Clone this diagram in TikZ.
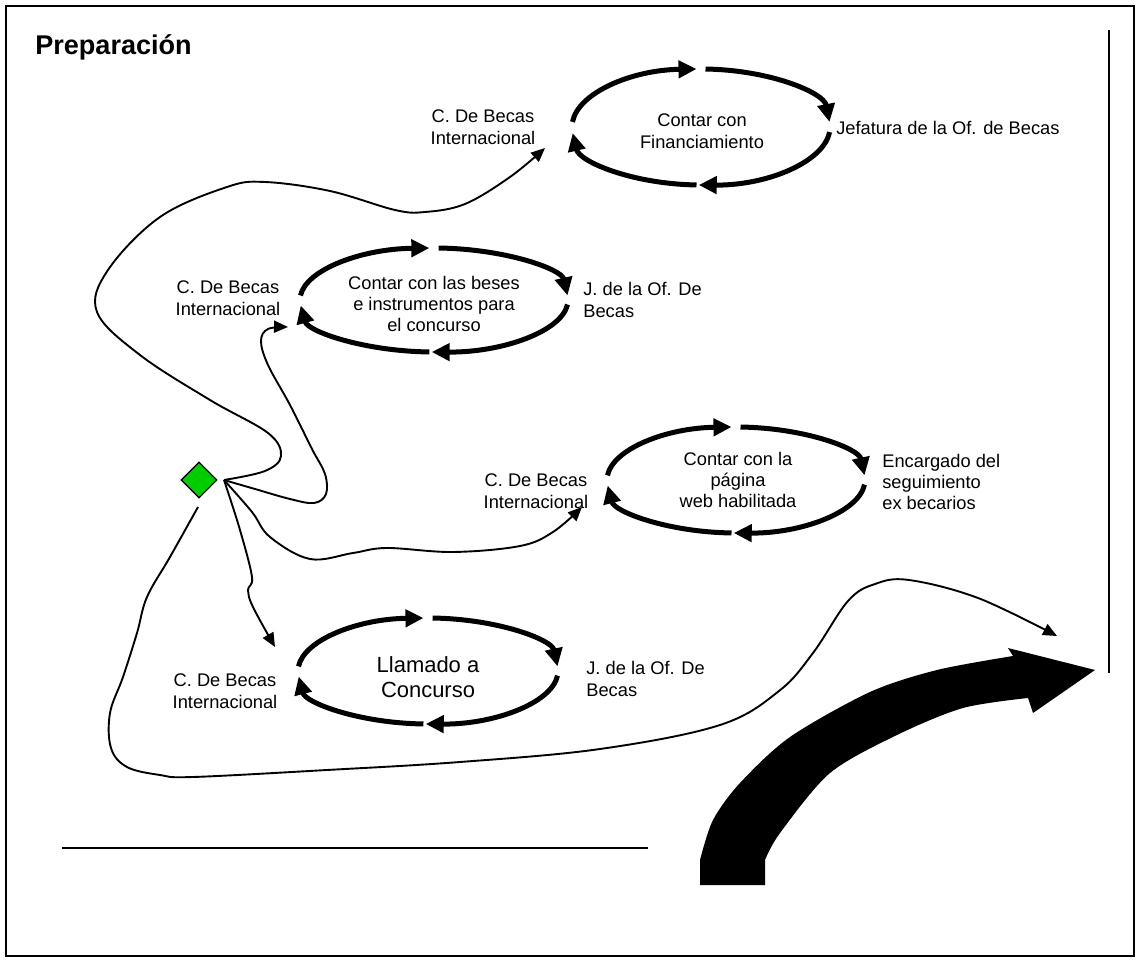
\documentclass[tikz,border=0pt]{standalone}
\usepackage{fontspec}
\setmainfont{Liberation Sans}
\usetikzlibrary{arrows.meta,shapes.geometric}
\definecolor{dgreen}{RGB}{0,204,0}
\newcommand\cycloop[4]{%
  \draw[cyc] ([shift={(185:#3 and #4)}]#1,#2) arc[start angle=185,end angle=268,x radius=#3,y radius=#4];
  \draw[cyc] ([shift={(272:#3 and #4)}]#1,#2) arc[start angle=272,end angle=355,x radius=#3,y radius=#4];
  \draw[cyc] ([shift={(5:#3 and #4)}]#1,#2) arc[start angle=5,end angle=91,x radius=#3,y radius=#4];
  \draw[cyc] ([shift={(92:#3 and #4)}]#1,#2) arc[start angle=92,end angle=174,x radius=#3,y radius=#4];
}
\begin{document}
\begin{tikzpicture}[x=0.02cm,y=-0.02cm,
  cyc/.style={line width=0.1cm,-{Triangle[length=0.36cm,width=0.34cm]}},
  conn/.style={line width=0.038cm,-{Triangle[length=0.28cm,width=0.24cm]}},
  lbl/.style={inner sep=0pt,align=center,font=\fontsize{10.4}{12.2}\selectfont},
  lblr/.style={inner sep=0pt,align=left,anchor=west,font=\fontsize{10.4}{12.2}\selectfont},
  big/.style={inner sep=0pt,align=center,font=\fontsize{12.5}{14.2}\selectfont},
  rule/.style={line width=0.026cm}]
\useasboundingbox (0,0) rectangle (1139,962);
\draw[rule] (6,6) rectangle (1134,956);
\node[anchor=west,inner sep=0pt,font=\fontsize{15.4}{18}\selectfont\bfseries] (title) at (35,47) {Preparación};

% loops
\cycloop{701}{127}{129}{58}
\cycloop{434}{300}{134}{52}
\cycloop{736}{480}{129}{53}
\cycloop{428}{671}{130}{53}

\node[lbl] (t1) at (702,131) {Contar con\\Financiamiento};
\node[lbl] (t2) at (434,304) {Contar con las beses\\e instrumentos para\\el concurso};
\node[lbl] (t3) at (738,480) {Contar con la\\página\\web habilitada};
\node[big] (t4) at (428,677) {Llamado a\\Concurso};

\node[lbl] (l1a) at (483,127) {C. De Becas\\Internacional};
\node[lblr] (l1b) at (836,128) {Jefatura de la Of. de Becas};
\node[lbl] (l2a) at (228,298) {C. De Becas\\Internacional};
\node[lblr] (l2b) at (583,300) {J. de la Of. De\\Becas};
\node[lbl] (l3a) at (536,491) {C. De Becas\\Internacional};
\node[lblr] (l3b) at (882,482) {Encargado del\\seguimiento\\ex becarios};
\node[lbl] (l4a) at (225,691) {C. De Becas\\Internacional};
\node[lblr] (l4b) at (586,679) {J. de la Of. De\\Becas};

% diamond
\node[diamond,draw,fill=dgreen,line width=0.026cm,minimum width=0.72cm,minimum height=0.72cm,inner sep=0pt] (d) at (199,480) {};
\coordinate (src) at (224,480);
\coordinate (src2) at (198,507);
\coordinate (a1) at (545,148);
\coordinate (b1) at (288,327);
\coordinate (c1) at (582,507);
\coordinate (d1) at (275,647);
\coordinate (e1) at (1057,636);

\draw[conn] plot[smooth,tension=0.6] coordinates {(src) (265,471) (281,456) (268,433) (210,400) (140,355) (97,312) (108,270) (160,217) (227,187) (265,182) (330,191) (395,210) (425,212) (465,204) (510,177) (a1)};
\draw[conn] plot[smooth,tension=0.6] coordinates {(src) (255,489) (290,499) (314,503) (326,494) (325,474) (312,449) (290,405) (268,365) (261,341) (268,329) (b1)};
\draw[conn] plot[smooth,tension=0.6] coordinates {(src) (252,512) (270,537) (310,559) (353,553) (387,548) (453,552) (520,546) (553,532) (c1)};
\draw[conn] plot[smooth,tension=0.6] coordinates {(src) (240,530) (252,577) (248,590) (253,607) (d1)};
\draw[conn] plot[smooth,tension=0.6] coordinates {(src2) (170,557) (147,597) (137,633) (123,677) (110,713) (111,748) (127,767) (160,775) (193,777) (327,770) (460,762) (600,749) (720,725) (779,691) (813,653) (848,601) (875,584) (909,580) (978,598) (e1)};

% big arrow
\fill (700,885) -- plot[smooth,tension=0.5] coordinates {(700,860) (713,820) (740,783) (790,737) (870,692) (937,670) (1013,656)} -- (1008,648) -- (1095,670) -- (1033,713) -- (1028,698) -- plot[smooth,tension=0.5] coordinates {(1028,698) (963,708) (897,735) (830,773) (780,833) (765,860)} -- (765,885) -- cycle;

% rules
\draw[rule] (1109,30) -- (1109,673);
\draw[rule] (62,848) -- (648,848);
\end{tikzpicture}
\end{document}
